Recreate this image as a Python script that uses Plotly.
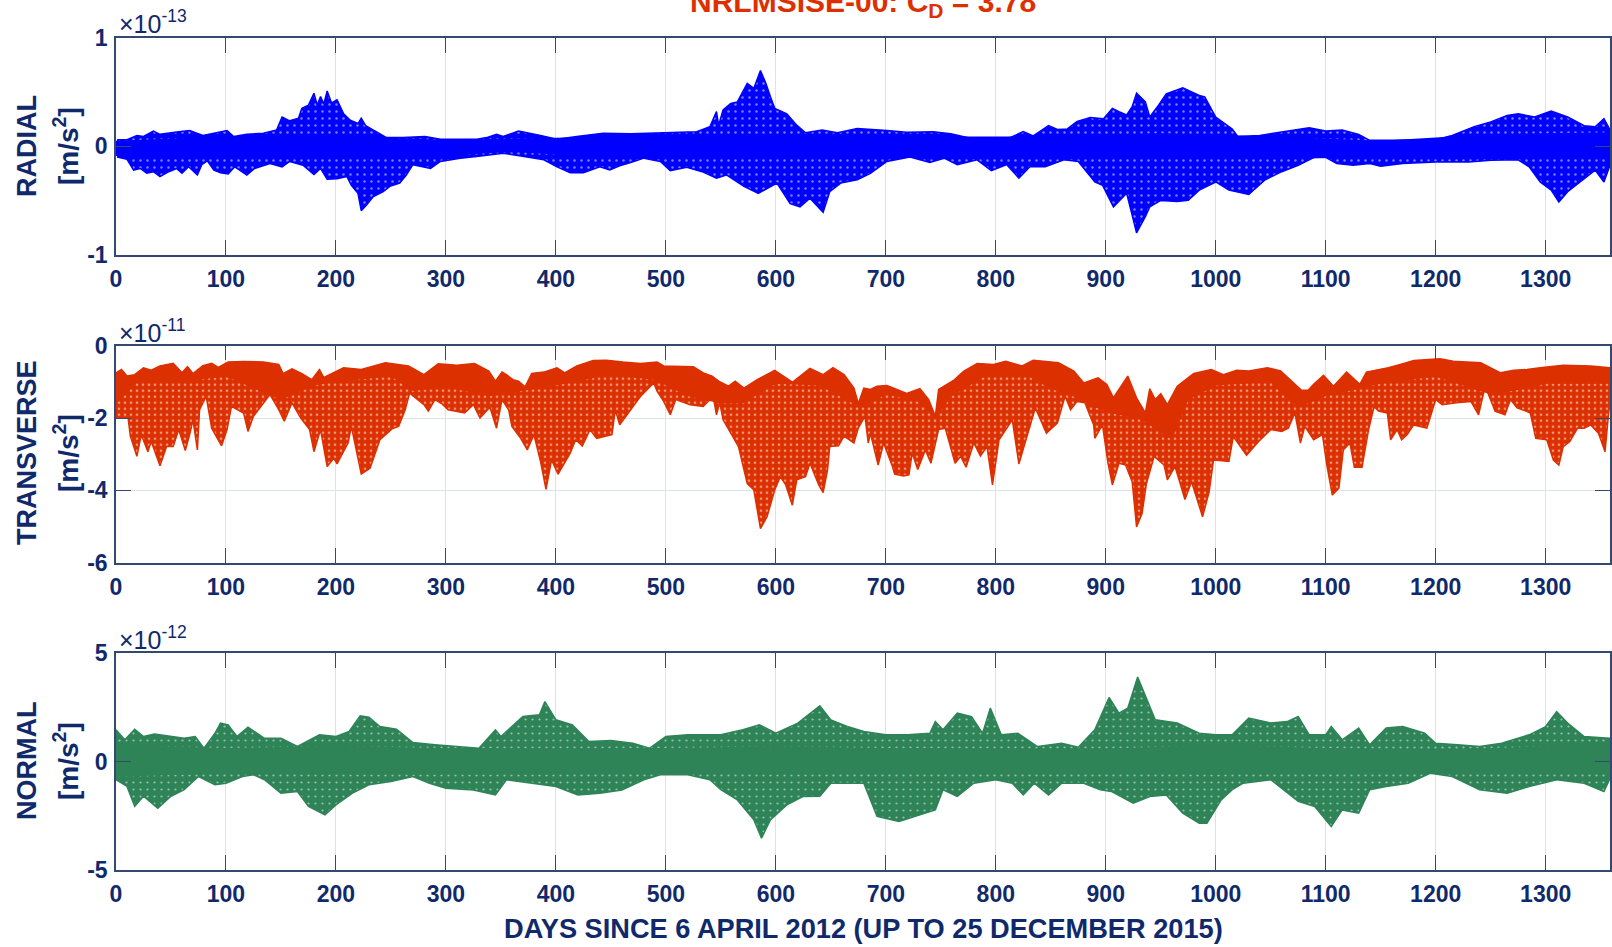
import plotly.graph_objects as go

W, H = 1612, 947
NAVY = "#10296b"
AXIS = "#34496e"
GRID = "#dde2e8"
BLUE = "#0000ff"
RED = "#dd3000"
GREEN = "#2e8357"

x_ticks = list(range(0, 1301, 100))
x_max = 1358.5

radial_ticks = [-1, 0, 1]
transverse_ticks = [-6, -4, -2, 0]
normal_ticks = [-5, 0, 5]

# ---- RADIAL (x 1e-13 m/s^2) : outer envelope
radial_up_d = [1,10,19,25,34,40,57,67,79,92,101,107,119,134,146,151,158,166,169,175,180,183,186,189,192,196,201,207,213,220,223,227,237,246,261,281,295,328,337,346,352,366,386,401,419,443,468,498,528,540,546,548,552,559,565,574,580,586,591,595,599,610,619,627,642,656,674,701,719,743,759,783,801,813,825,834,848,856,865,874,886,898,906,912,919,924,928,936,940,948,955,970,985,990,1000,1015,1020,1040,1060,1085,1100,1115,1130,1140,1160,1200,1215,1235,1250,1265,1275,1290,1305,1320,1335,1345,1353,1358]
radial_up_v = [.06,.06,.10,.09,.14,.11,.135,.145,.10,.13,.145,.09,.11,.12,.15,.27,.235,.26,.35,.38,.49,.38,.46,.39,.51,.40,.43,.30,.24,.21,.26,.19,.135,.08,.08,.09,.065,.065,.08,.11,.09,.14,.10,.065,.09,.12,.115,.125,.135,.18,.32,.195,.335,.395,.41,.58,.535,.70,.58,.46,.35,.30,.195,.125,.15,.125,.165,.145,.13,.135,.115,.06,.065,.08,.135,.095,.19,.155,.16,.23,.265,.255,.35,.32,.29,.365,.49,.41,.27,.38,.485,.54,.47,.455,.27,.16,.09,.10,.13,.17,.14,.15,.11,.055,.055,.06,.10,.18,.225,.285,.30,.27,.325,.27,.19,.18,.255,.16]
radial_lo_d = [1,10,16,22,28,34,40,48,55,60,66,74,78,83,89,95,102,108,119,126,140,151,158,170,180,186,192,201,210,214,220,223,228,234,243,249,258,264,270,286,295,313,328,352,371,389,401,413,425,440,449,458,468,480,495,504,519,533,546,555,571,584,592,601,613,622,631,643,649,659,674,686,701,722,740,753,765,783,796,810,821,831,845,862,875,890,897,907,919,928,936,940,950,965,975,985,1000,1012,1030,1045,1060,1075,1095,1110,1125,1140,1150,1170,1200,1230,1250,1275,1285,1295,1305,1312,1320,1330,1345,1353,1358]
radial_lo_v = [-.10,-.12,-.22,-.205,-.25,-.235,-.28,-.235,-.205,-.25,-.19,-.265,-.17,-.135,-.22,-.245,-.255,-.19,-.265,-.205,-.16,-.19,-.14,-.175,-.26,-.205,-.305,-.30,-.28,-.36,-.435,-.595,-.54,-.465,-.42,-.37,-.34,-.265,-.17,-.205,-.14,-.11,-.095,-.065,-.095,-.125,-.19,-.245,-.245,-.19,-.22,-.18,-.15,-.11,-.14,-.225,-.195,-.235,-.295,-.265,-.37,-.435,-.39,-.34,-.53,-.56,-.48,-.61,-.42,-.34,-.31,-.25,-.14,-.10,-.15,-.11,-.17,-.125,-.225,-.17,-.295,-.19,-.19,-.125,-.14,-.33,-.36,-.56,-.435,-.80,-.65,-.56,-.50,-.51,-.50,-.405,-.33,-.405,-.445,-.31,-.235,-.175,-.075,-.16,-.175,-.16,-.185,-.16,-.145,-.145,-.13,-.125,-.19,-.33,-.405,-.515,-.42,-.345,-.22,-.33,-.19]
# solid core of the radial band
radial_core_d = [0,100,200,300,360,450,550,650,750,850,950,1050,1150,1250,1358]
radial_core_up = [.05,.09,.09,.06,.07,.09,.10,.10,.09,.09,.12,.09,.05,.11,.13]
radial_core_lo = [-.09,-.11,-.11,-.09,-.05,-.11,-.10,-.09,-.10,-.12,-.10,-.12,-.10,-.10,-.10]

# ---- TRANSVERSE (x 1e-11 m/s^2)
trans_up_d = [0,5,10,17,25,32,40,52,60,65,70,79,87,93,102,116,134,148,152,160,169,178,185,189,207,223,245,266,280,293,310,326,339,345,351,355,361,366,372,378,389,401,408,419,434,446,461,477,492,498,525,534,542,548,557,563,571,583,599,615,631,643,652,662,671,675,680,686,692,701,710,719,731,739,745,748,762,771,783,798,809,824,834,845,857,871,880,893,901,907,920,928,936,940,945,950,956,965,980,996,1007,1019,1030,1034,1047,1059,1068,1078,1084,1089,1098,1107,1119,1131,1137,1147,1157,1171,1180,1204,1216,1241,1259,1271,1283,1295,1316,1341,1358]
trans_up_v = [-.75,-.66,-.84,-.80,-.61,-.68,-.56,-.49,-.75,-.58,-.77,-.55,-.49,-.60,-.45,-.44,-.45,-.52,-.77,-.64,-.77,-.94,-.66,-.88,-.61,-.66,-.47,-.56,-.80,-.50,-.54,-.49,-.70,-.98,-.73,-.80,-.94,-.98,-1.14,-.77,-.73,-.61,-.75,-.56,-.41,-.40,-.45,-.49,-.45,-.56,-.58,-.75,-.84,-.98,-1.12,-.98,-1.17,-.94,-.68,-1.01,-.63,-.80,-.61,-.80,-1.17,-1.60,-1.17,-1.21,-1.12,-1.10,-1.21,-1.32,-1.19,-1.49,-1.95,-1.21,-.95,-.70,-.49,-.52,-.43,-.56,-.40,-.43,-.47,-.70,-1.03,-.89,-1.07,-1.44,-.84,-1.44,-1.86,-1.19,-1.49,-1.33,-1.63,-1.12,-.77,-.66,-.80,-.68,-.70,-.68,-.61,-.70,-.95,-1.23,-1.23,-1.07,-.82,-1.12,-.73,-1.07,-.73,-.66,-.61,-.49,-.41,-.36,-.43,-.47,-.75,-.68,-.66,-.61,-.54,-.56,-.61]
trans_lo_d = [0,11,13,19,23,29,32,40,46,52,57,63,67,70,74,76,82,87,96,101,105,116,120,125,140,148,153,160,168,176,180,186,192,198,201,211,214,223,231,240,251,257,263,267,280,284,290,296,302,317,325,331,340,346,351,357,360,368,374,380,386,391,396,402,413,418,424,431,437,451,454,458,468,477,489,492,498,504,509,522,534,543,546,549,552,559,566,574,580,586,592,599,604,609,615,619,627,631,639,643,647,649,657,662,671,675,681,684,686,693,698,706,708,716,721,724,729,736,741,748,754,763,768,773,780,786,792,797,803,815,821,828,836,846,856,863,868,874,881,889,890,897,902,906,912,918,924,928,933,937,944,953,956,963,972,978,988,994,998,1012,1016,1028,1039,1050,1060,1066,1072,1077,1081,1089,1097,1101,1106,1112,1116,1122,1126,1133,1139,1144,1148,1156,1159,1165,1169,1174,1180,1192,1200,1206,1219,1232,1239,1245,1254,1263,1268,1274,1282,1286,1291,1301,1307,1312,1316,1322,1329,1335,1341,1348,1354,1357,1358]
trans_lo_v = [-2.0,-2.0,-2.5,-3.06,-2.46,-2.93,-2.65,-3.32,-2.79,-2.79,-2.32,-2.9,-2.46,-2.05,-2.88,-1.77,-1.4,-2.28,-2.77,-2.32,-1.68,-1.86,-2.37,-1.95,-1.35,-1.77,-2.09,-1.58,-2.0,-2.32,-2.93,-2.32,-3.34,-3.11,-3.27,-2.69,-2.23,-3.55,-3.39,-2.6,-2.3,-2.23,-1.77,-1.31,-1.63,-1.81,-1.49,-1.6,-1.77,-1.86,-1.63,-2.0,-1.70,-2.28,-1.49,-1.77,-2.23,-2.56,-2.88,-2.46,-3.2,-3.97,-3.16,-3.55,-2.97,-2.6,-2.77,-2.32,-2.56,-2.46,-1.77,-2.19,-1.77,-1.4,-1.03,-1.26,-1.54,-1.91,-1.49,-1.63,-1.68,-1.4,-1.91,-1.58,-2.05,-2.42,-2.79,-3.81,-3.99,-5.06,-4.73,-3.99,-3.62,-3.85,-4.41,-3.71,-3.62,-3.25,-3.85,-4.06,-3.44,-2.79,-2.77,-2.5,-2.69,-2.28,-1.95,-2.69,-2.42,-3.3,-2.69,-3.34,-3.55,-3.6,-3.57,-2.97,-3.42,-2.88,-3.25,-2.32,-2.28,-3.25,-3.06,-3.36,-2.69,-3.05,-2.79,-3.85,-2.6,-2.05,-3.27,-2.51,-1.72,-2.42,-2.14,-1.4,-1.77,-1.54,-1.58,-2.19,-2.56,-2.19,-3.25,-3.85,-3.25,-3.3,-3.76,-5.01,-4.64,-3.81,-3.06,-3.3,-3.71,-3.34,-4.25,-3.76,-4.73,-4.04,-3.16,-3.2,-2.51,-3.03,-2.65,-2.32,-2.37,-2.28,-1.86,-2.69,-2.23,-2.6,-2.46,-3.3,-4.13,-3.94,-2.88,-2.69,-3.36,-3.36,-2.32,-1.68,-1.81,-1.86,-2.6,-2.32,-2.6,-2.46,-2.19,-2.28,-1.49,-1.63,-1.58,-1.54,-1.91,-1.12,-1.81,-1.91,-1.49,-1.72,-1.81,-1.86,-2.56,-2.6,-3.16,-3.3,-2.79,-2.65,-2.28,-2.28,-2.19,-2.42,-2.93,-1.95,-1.70]
# lower edge of the solid part of the transverse band
trans_core_d = [0,20,60,100,150,180,200,250,270,300,340,400,450,490,520,550,570,600,640,670,680,700,730,745,760,790,830,850,870,890,910,930,960,975,1000,1050,1075,1100,1150,1200,1250,1280,1300,1358]
trans_core_lo = [-1.6,-1.0,-1.0,-.85,-1.5,-1.1,-1.0,-.85,-1.25,-1.15,-1.4,-1.1,-.8,-.95,-1.4,-1.6,-1.6,-1.05,-1.1,-1.6,-1.7,-1.35,-1.55,-2.0,-1.4,-.85,-.85,-1.2,-1.4,-1.7,-1.9,-2.0,-2.6,-1.5,-1.1,-1.0,-1.7,-1.4,-1.05,-.85,-1.35,-1.2,-1.05,-1.05]

# ---- NORMAL (x 1e-12 m/s^2)
normal_up_d = [0,8,17,25,35,50,62,72,80,90,95,102,110,120,135,150,165,185,200,212,222,230,240,255,270,290,310,330,345,350,370,385,390,400,415,430,450,470,485,500,520,550,570,585,600,620,640,650,665,680,700,720,740,745,752,765,778,788,795,805,820,838,860,875,890,903,912,920,929,936,945,965,985,1000,1015,1030,1050,1065,1075,1085,1100,1105,1115,1130,1140,1155,1170,1190,1200,1220,1240,1260,1285,1300,1310,1320,1335,1358]
normal_up_v = [1.46,1.0,1.49,1.15,1.27,1.15,1.07,1.15,.61,1.3,1.77,1.69,1.15,1.58,1.07,1.07,.69,1.23,1.15,1.38,2.1,2.04,1.61,1.49,.87,.77,.69,.61,1.46,1.15,2.07,2.15,2.76,1.92,1.69,.92,.97,.84,.61,1.15,1.23,1.23,1.46,1.69,1.3,1.77,2.57,1.92,1.61,1.38,1.23,1.23,1.3,1.84,1.46,2.23,2.07,1.3,2.46,1.23,1.3,.69,.84,.66,1.46,2.95,2.23,2.46,3.89,3.0,1.92,1.77,1.3,1.23,1.23,2.0,1.77,1.84,2.07,1.23,1.23,1.61,1.0,1.54,.77,1.54,1.61,1.3,.84,.77,.69,.84,1.23,1.61,2.3,1.77,1.15,1.07]
normal_lo_d = [0,10,17,25,38,50,62,75,90,100,115,125,135,150,165,175,190,200,215,230,250,270,285,300,325,345,355,380,400,420,440,460,480,495,520,540,550,565,580,587,595,610,625,640,650,680,692,712,725,745,752,765,780,800,815,825,835,848,860,880,895,905,925,940,955,970,985,992,1005,1015,1025,1050,1075,1090,1105,1115,1130,1140,1155,1175,1195,1215,1240,1265,1285,1310,1335,1353,1358]
normal_lo_v = [-.84,-1.15,-2.07,-1.6,-2.15,-1.6,-1.3,-.69,-1.07,-1.0,-.69,-.61,-.84,-1.46,-1.38,-2.07,-2.46,-2.0,-1.46,-1.07,-.92,-.69,-1.0,-1.23,-1.31,-1.54,-.84,-1.0,-1.15,-1.54,-1.46,-1.31,-.84,-.61,-.61,-.84,-1.3,-1.77,-2.69,-3.53,-2.69,-2.0,-1.61,-1.6,-1.0,-1.0,-2.53,-2.76,-2.53,-2.23,-1.3,-1.61,-1.0,-.84,-1.0,-1.54,-1.0,-1.54,-1.0,-1.0,-1.3,-1.38,-1.92,-1.61,-1.54,-2.38,-2.84,-2.84,-1.77,-1.3,-1.0,-.84,-1.84,-2.07,-3.0,-2.23,-2.38,-1.3,-1.15,-1.0,-.54,-.69,-1.3,-1.46,-1.15,-.84,-1.0,-1.38,-.84]
normal_core_d = [0,100,200,300,400,500,600,700,800,900,1000,1100,1200,1300,1358]
normal_core_up = [.75,.62,.72,.62,.6,.62,.7,.62,.6,.6,.75,.62,.55,.7,.75]
normal_core_lo = [-.7,-.55,-.6,-.6,-.6,-.5,-.6,-.55,-.55,-.55,-.6,-.5,-.45,-.55,-.55]


def y_domain(top, bottom):
    return [1 - bottom / H, 1 - top / H]


def polygon(up_d, up_v, lo_d, lo_v):
    return up_d + lo_d[::-1], up_v + lo_v[::-1]


def add_band(fig, i, up_d, up_v, lo_d, lo_v, colour, solidity, size):
    xs, ys = polygon(up_d, up_v, lo_d, lo_v)
    fig.add_trace(go.Scatter(
        x=xs, y=ys, xaxis=f"x{i}", yaxis=f"y{i}", mode="lines", fill="toself",
        line=dict(color=colour, width=1.5), fillcolor=colour,
        fillpattern=dict(shape=".", bgcolor=colour, fgcolor="white",
                         size=size, solidity=solidity),
        hoverinfo="skip", showlegend=False))


def add_core(fig, i, up_d, up_v, lo_d, lo_v, colour):
    xs, ys = polygon(up_d, up_v, lo_d, lo_v)
    fig.add_trace(go.Scatter(
        x=xs, y=ys, xaxis=f"x{i}", yaxis=f"y{i}", mode="none", fill="toself",
        fillcolor=colour, hoverinfo="skip", showlegend=False))


fig = go.Figure()
add_band(fig, 1, radial_up_d, radial_up_v, radial_lo_d, radial_lo_v, BLUE, 0.10, 7)
add_core(fig, 1, radial_core_d, radial_core_up, radial_core_d, radial_core_lo, BLUE)
add_band(fig, 2, trans_up_d, trans_up_v, trans_lo_d, trans_lo_v, RED, 0.16, 6)
add_core(fig, 2, trans_up_d, trans_up_v, trans_core_d, trans_core_lo, RED)
add_band(fig, 3, normal_up_d, normal_up_v, normal_lo_d, normal_lo_v, GREEN, 0.08, 7)
add_core(fig, 3, normal_core_d, normal_core_up, normal_core_d, normal_core_lo, GREEN)

tick_font = dict(family="Liberation Sans", size=23, color=NAVY, weight="bold")
common = dict(showline=True, linecolor=AXIS, linewidth=1.5, mirror="ticks",
              ticks="inside", ticklen=15, tickwidth=1.3, tickcolor=AXIS,
              showgrid=True, gridcolor=GRID, gridwidth=1, zeroline=False,
              tickfont=tick_font, automargin=False)

panels = [(38, 254.5, radial_ticks), (345.7, 562.7, transverse_ticks), (653, 870, normal_ticks)]
layout = dict(width=W, height=H, margin=dict(l=0, r=0, t=0, b=0),
              paper_bgcolor="white", plot_bgcolor="white", showlegend=False)
for n, (top, bottom, yt) in enumerate(panels, start=1):
    sfx = "" if n == 1 else str(n)
    layout[f"xaxis{sfx}"] = dict(domain=[116 / W, 1610 / W], range=[0, x_max], anchor=f"y{sfx}",
                                 tickvals=x_ticks, ticktext=[str(v) for v in x_ticks],
                                 ticklabelstandoff=3, **common)
    layout[f"yaxis{sfx}"] = dict(domain=y_domain(top, bottom), range=[yt[0], yt[-1]], anchor=f"x{sfx}",
                                 tickvals=yt, ticktext=[str(v) for v in yt],
                                 ticklabelstandoff=2, **common)
fig.update_layout(**layout)


def note(px, py, text, size, colour=NAVY, angle=0, bold=True, xanchor="center"):
    t = f"<b>{text}</b>" if bold else text
    fig.add_annotation(xref="paper", yref="paper", x=px / W, y=1 - py / H, text=t, showarrow=False,
                       font=dict(family="Liberation Sans", size=size, color=colour),
                       textangle=angle, xanchor=xanchor, yanchor="middle")


note(863, 4, "NRLMSISE-00: C<sub>D</sub> = 3.78", 30, RED)
note(863, 928, "DAYS SINCE 6 APRIL 2012 (UP TO 25 DECEMBER 2015)", 27.2)
for top, label, y_c, exp in [(22, "RADIAL", 146, "-13"), (331, "TRANSVERSE", 453, "-11"), (638, "NORMAL", 761, "-12")]:
    note(27, y_c, label, 27, angle=-90)
    note(66, y_c, "[m/s<sup>2</sup>]", 28, angle=-90)
    note(117, top, f"\u00d710<sup>{exp}</sup>", 25, xanchor="left", bold=False)

fig.write_html("out.html", config=dict(displayModeBar=False), post_script="document.body.style.margin='0';")
